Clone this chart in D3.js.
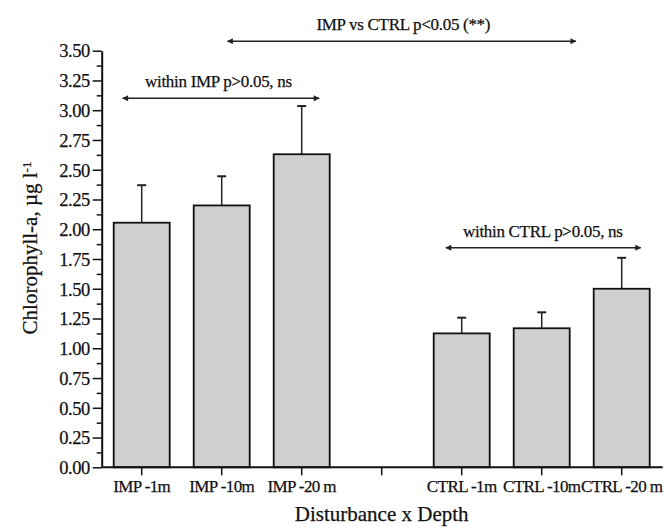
<!DOCTYPE html>
<html>
<head>
<meta charset="utf-8">
<script src="https://cdn.jsdelivr.net/npm/d3@7"></script>
<style>
body { margin: 0; background: #fff; }
text { font-family: "Liberation Serif", "DejaVu Serif", serif; fill: #111; stroke: #111; stroke-width: 0.25px; }
</style>
</head>
<body>
<div id="chart"></div>
<script>
// slots on the x axis, "" is the empty gap between the two groups
var categories = ["IMP -1m", "IMP -10m", "IMP -20 m", "", "CTRL -1m", "CTRL -10m", "CTRL -20 m"];
var means = [2.055, 2.20, 2.63, null, 1.125, 1.168, 1.50];
var errTop = [2.37, 2.445, 3.035, null, 1.257, 1.302, 1.76];
var yTicks = [0, 0.25, 0.5, 0.75, 1, 1.25, 1.5, 1.75, 2, 2.25, 2.5, 2.75, 3, 3.25, 3.5];

// comparison arrows: slot index from/to, value level, text level
var noteText = ["IMP vs CTRL p<0.05 (**)", "within IMP p>0.05, ns", "within CTRL p>0.05, ns"];
var noteFrom = [1.06, -0.25, 3.79];
var noteTo = [5.44, 2.23, 6.25];
var noteY = [3.58, 3.10, 1.845];
var noteTextY = [3.675, 3.196, 1.938];

var width = 668, height = 527;
var margin = {top: 50.7, right: 6.3, bottom: 59.7, left: 101.7};

var svg = d3.select("#chart").append("svg")
    .attr("width", width)
    .attr("height", height);

var x = d3.scaleBand()
    .domain(categories.map(function(d, i) { return i; }))
    .range([margin.left, width - margin.right])
    .paddingInner(0.3)
    .paddingOuter(0.15);

// centre of each slot, used for annotations
var slot = d3.scaleLinear()
    .domain([0, categories.length - 1])
    .range([x(0) + x.bandwidth() / 2, x(categories.length - 1) + x.bandwidth() / 2]);

var y = d3.scaleLinear()
    .domain([0, 3.5])
    .range([height - margin.bottom, margin.top]);

var defs = svg.append("defs");
function arrowHead(id, orient) {
    defs.append("marker")
        .attr("id", id)
        .attr("viewBox", "0 0 10 10")
        .attr("refX", 9)
        .attr("refY", 5)
        .attr("markerWidth", 10)
        .attr("markerHeight", 6)
        .attr("markerUnits", "userSpaceOnUse")
        .attr("orient", orient)
        .append("path")
        .attr("d", "M0,0 L10,5 L0,10 z")
        .attr("fill", "#222");
}
arrowHead("arrowEnd", "auto");
arrowHead("arrowStart", "auto-start-reverse");

// bars
var idx = d3.range(categories.length).filter(function(i) { return means[i] != null; });

svg.selectAll("line.err")
    .data(idx)
    .enter()
    .append("line")
    .attr("class", "err")
    .attr("x1", function(i) { return x(i) + x.bandwidth() / 2; })
    .attr("x2", function(i) { return x(i) + x.bandwidth() / 2; })
    .attr("y1", function(i) { return y(means[i]); })
    .attr("y2", function(i) { return y(errTop[i]); })
    .attr("stroke", "#222")
    .attr("stroke-width", 1.5);

svg.selectAll("line.cap")
    .data(idx)
    .enter()
    .append("line")
    .attr("class", "cap")
    .attr("x1", function(i) { return x(i) + x.bandwidth() / 2 - 4.5; })
    .attr("x2", function(i) { return x(i) + x.bandwidth() / 2 + 4.5; })
    .attr("y1", function(i) { return y(errTop[i]); })
    .attr("y2", function(i) { return y(errTop[i]); })
    .attr("stroke", "#222")
    .attr("stroke-width", 2);

svg.selectAll("rect.bar")
    .data(idx)
    .enter()
    .append("rect")
    .attr("class", "bar")
    .attr("x", function(i) { return x(i); })
    .attr("width", x.bandwidth())
    .attr("y", function(i) { return y(means[i]); })
    .attr("height", function(i) { return y(0) - y(means[i]); })
    .attr("fill", "#cfcfcf")
    .attr("stroke", "#111")
    .attr("stroke-width", 1.8);

// y axis with minor ticks
var yMinor = d3.range(0.125, 3.5, 0.25);
svg.append("g")
    .attr("transform", "translate(" + margin.left + ",0)")
    .call(d3.axisLeft(y).tickValues(yMinor).tickSize(5).tickFormat(""))
    .call(function(g) { g.select(".domain").remove(); })
    .selectAll("line").attr("stroke", "#111").attr("stroke-width", 1.5);

var yAxis = svg.append("g")
    .attr("transform", "translate(" + margin.left + ",0)")
    .call(d3.axisLeft(y).tickValues(yTicks).tickSize(9).tickSizeOuter(0).tickPadding(3)
        .tickFormat(d3.format(".2f")));
yAxis.select(".domain").attr("stroke", "#111").attr("stroke-width", 2);
yAxis.selectAll("line").attr("stroke", "#111").attr("stroke-width", 1.5);
yAxis.selectAll("text")
    .attr("font-size", 18.5)
    .attr("font-family", "Liberation Serif")
    .attr("letter-spacing", -0.5)
    .attr("dy", "0.34em")
    .attr("fill", "#111");

// x axis
var xAxis = svg.append("g")
    .attr("transform", "translate(0," + y(0) + ")")
    .call(d3.axisBottom(x).tickSize(8).tickSizeOuter(0).tickPadding(5)
        .tickFormat(function(i) { return categories[i]; }));
xAxis.select(".domain")
    .attr("d", "M" + margin.left + ",0H" + (width - margin.right + 1))
    .attr("stroke", "#111").attr("stroke-width", 2);
xAxis.selectAll("line").attr("stroke", "#111").attr("stroke-width", 1.5);
xAxis.selectAll("text")
    .attr("font-size", 17)
    .attr("font-family", "Liberation Serif")
    .attr("letter-spacing", -0.6)
    .attr("fill", "#111");

// axis titles
svg.append("text")
    .attr("x", (margin.left + width - margin.right) / 2)
    .attr("y", 521)
    .attr("text-anchor", "middle")
    .attr("font-size", 21)
    .text("Disturbance x Depth");

var yTitle = svg.append("text")
    .attr("transform", "translate(37,248) rotate(-90)")
    .attr("text-anchor", "middle")
    .attr("font-size", 21);
yTitle.append("tspan").text("Chlorophyll-a, \u00b5g l");
yTitle.append("tspan").attr("dy", "-0.45em").attr("font-size", 13).text("-1");

// comparison annotations
noteText.forEach(function(t, k) {
    svg.append("line")
        .attr("x1", slot(noteFrom[k]) + 1)
        .attr("x2", slot(noteTo[k]) - 1)
        .attr("y1", y(noteY[k]))
        .attr("y2", y(noteY[k]))
        .attr("stroke", "#222")
        .attr("stroke-width", 1.6)
        .attr("marker-end", "url(#arrowEnd)")
        .attr("marker-start", "url(#arrowStart)");
});

svg.selectAll("text.note")
    .data(noteText)
    .enter()
    .append("text")
    .attr("class", "note")
    .attr("x", function(d, k) {
        if (k == 0) return slot(3.27);
        return (slot(noteFrom[k]) + slot(noteTo[k])) / 2 + (k == 1 ? -2.5 : -0.5);
    })
    .attr("y", function(d, k) { return y(noteTextY[k]); })
    .attr("text-anchor", "middle")
    .attr("font-size", 17)
    .attr("letter-spacing", -0.3)
    .text(function(d) { return d; });
</script>
</body>
</html>
